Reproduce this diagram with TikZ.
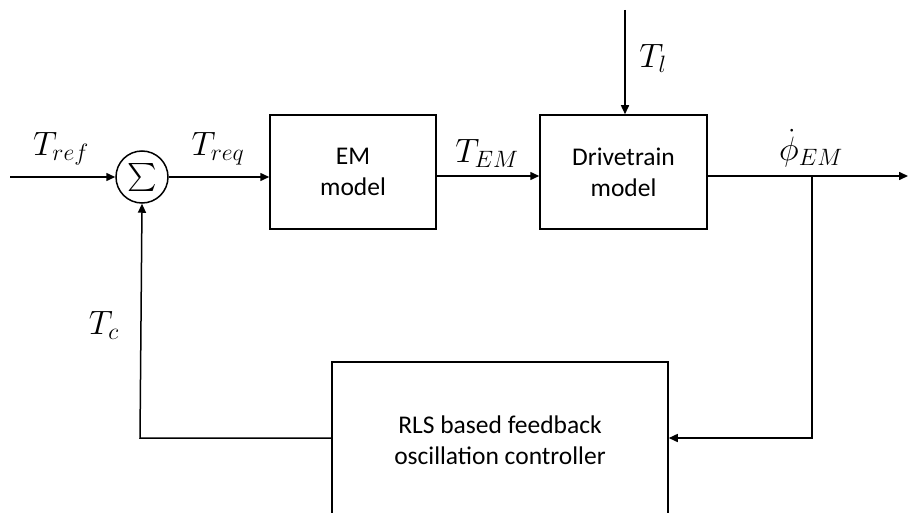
\RequirePackage{fix-cm}
\documentclass[tikz,border=0pt]{standalone}
\usepackage{fontspec}
\usepackage{graphicx}
\setmainfont{Carlito}
\usetikzlibrary{arrows.meta}
\begin{document}
\begin{tikzpicture}[x=1pt,y=-1pt,
  line width=1.5pt,
  blk/.style={draw,line width=1.5pt,align=center,font=\fontsize{25.5}{31}\selectfont,inner sep=0pt},
  lbl/.style={inner sep=0pt,font=\fontsize{26}{30}\selectfont},
  arr/.style={-{Triangle[length=9pt,width=8pt]}}]
\useasboundingbox (0,0) rectangle (909,513);
% blocks
\node[draw,circle,minimum size=52pt,inner sep=0pt,line width=1.5pt] (sum) at (142,177)
  {\scalebox{2.8}{$\sum$}};
\node[blk,minimum width=166pt,minimum height=114pt] (em) at (353,172) {EM\\model};
\node[blk,minimum width=167pt,minimum height=114pt] (dt) at (623.5,172) {Drivetrain\\model};
\node[blk,minimum width=336pt,minimum height=156pt] (rls) at (500,440) {RLS based feedback\\oscillation controller};
% coordinates
\coordinate (in) at (10,177);
\coordinate (out) at (908,176);
\coordinate (br) at (812,176);
\coordinate (brd) at (812,438);
\coordinate (tl) at (625,10);
\coordinate (fbl) at (140,438);
% connectors
\draw[arr] (in) -- (sum.west);
\draw[arr] (sum.east) -- (sum.east -| em.west);
\draw[arr] (em.east |- 0,176) -- (dt.west |- 0,176);
\draw[arr] (tl) -- (tl |- dt.north);
\draw[arr] (dt.east |- out) -- (out);
\draw[arr] (br) -- (brd) -- (brd -| rls.east);
\draw[arr] (fbl -| rls.west) -- (fbl) -- (sum.south);
% labels
\node[lbl] (lref) at (61,149) {\scalebox{1.3}{$T_{ref}$}};
\node[lbl] (lreq) at (218,149) {\scalebox{1.3}{$T_{req}$}};
\node[lbl] (lem) at (487,153) {\scalebox{1.3}{$T_{EM}$}};
\node[lbl] (ll) at (653,58) {\scalebox{1.3}{$T_{l}$}};
\node[lbl] (lphi) at (811,148) {\scalebox{1.3}{$\dot{\phi}_{EM}$}};
\node[lbl] (lc) at (104,325) {\scalebox{1.3}{$T_{c}$}};
\end{tikzpicture}
\end{document}
